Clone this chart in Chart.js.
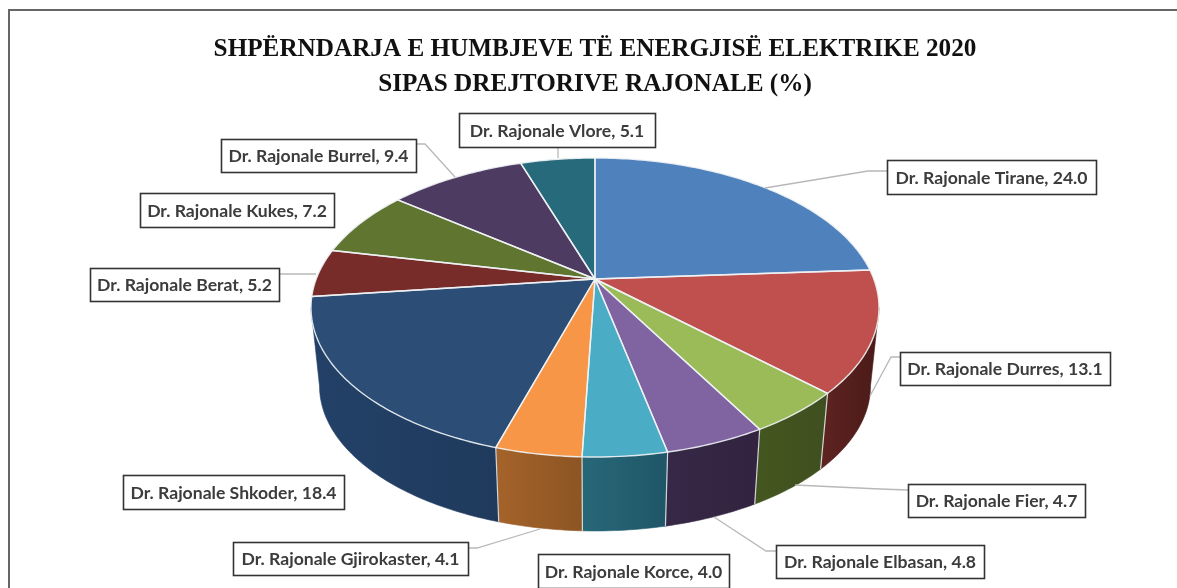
<!DOCTYPE html>
<html><head><meta charset="utf-8">
<style>html,body{margin:0;padding:0;background:#fff}canvas{display:block}</style>
<script src="https://cdn.jsdelivr.net/npm/chart.js@4"></script>
</head><body><canvas id="c" width="1177" height="588"></canvas>
<script>
const categories=["Dr. Rajonale Tirane","Dr. Rajonale Durres","Dr. Rajonale Fier","Dr. Rajonale Elbasan","Dr. Rajonale Korce","Dr. Rajonale Gjirokaster","Dr. Rajonale Shkoder","Dr. Rajonale Berat","Dr. Rajonale Kukes","Dr. Rajonale Burrel","Dr. Rajonale Vlore"];
const values=[24.0,13.1,4.7,4.8,4.0,4.1,18.4,5.2,7.2,9.4,5.1];
const topColors=["#4f81bd","#c0504d","#9bbb59","#8064a2","#4bacc6","#f79646","#2c4d75","#772c2a","#5f7530","#4d3b62","#276a7c"];
const sideDark=["#2f4d71","#4a1a18","#3f4f20","#322440","#1f5668","#8c5524","#1f3a5c","#4a1a18","#3f4f20","#322440","#1f5668"];
const sideLight=["#3d6491","#5c2320","#44561f","#362846","#276878","#a5632a","#234168","#5c2320","#44561f","#362846","#276878"];
const titleLines=["SHPËRNDARJA E HUMBJEVE TË ENERGJISË ELEKTRIKE 2020","SIPAS DREJTORIVE RAJONALE (%)"];
// label boxes: left, top, right, bottom
const labelBoxes=[[887,160,1096,194],[900,352,1110,385],[908,484,1085,517],[776,545,984,578],[538,554,729,588],[233,542,468,575],[123,475,344,509],[90,268,279,301],[140,193,334,227],[221,139,416,172],[459,113,655,147]];
// leader polylines
const leaders=[[[887,171],[868,171],[765,188]],[[900,357],[891,357],[870,396]],[[908,490],[880,489],[795,485]],[[776,551],[766,551],[714,517]],null,[[468,548],[477,548],[540,529]],null,[[279,274],[316,274]],null,[[416,144],[425,144],[455,177]],[[558,147],[558,158]]];

const P={cx:595,cy:279,Rx:278.8,A:144.07,c:0.1906,s:0.97,d:79.3};
function proj(a,bottom){
  const u=Math.cos(a),v=-Math.sin(a),w=1+P.c*v;
  const dx=P.Rx*u/w,dy=-P.A*v/w;
  return bottom?[P.cx+P.s*dx,P.cy+P.d+P.s*dy]:[P.cx+dx,P.cy+dy];
}
function rim(ctx,a0,a1,bottom,reverse){
  const n=Math.max(4,Math.ceil(Math.abs(a1-a0)*60));
  for(let i=0;i<=n;i++){
    const t=reverse?1-i/n:i/n;
    const p=proj(a0+(a1-a0)*t,bottom);
    ctx.lineTo(p[0],p[1]);
  }
}
const pie3d={
  id:'pie3d',
  beforeDatasetDraw(chart){
    const ctx=chart.ctx,arcs=chart.getDatasetMeta(0).data;
    ctx.save();
    ctx.lineJoin='round';
    // sides: only the front part of the wall, between the two silhouette points
    const frontA=Math.asin(P.c),frontB=Math.PI-frontA;
    const clampA=a=>{let x=a;while(x>Math.PI*1.5)x-=2*Math.PI;return x;};
    arcs.forEach((arc,i)=>{
      const s=clampA(arc.startAngle),e=s+(arc.endAngle-arc.startAngle);
      const a0=Math.max(s,frontA),a1=Math.min(e,frontB);
      if(a1<=a0)return;
      const p0=proj(a0),p1=proj(a1);
      const g=ctx.createLinearGradient(Math.min(p0[0],p1[0]),0,Math.max(p0[0],p1[0]),0);
      g.addColorStop(0,sideLight[i]);g.addColorStop(1,sideDark[i]);
      ctx.beginPath();rim(ctx,a0,a1,false,false);rim(ctx,a0,a1,true,true);ctx.closePath();
      ctx.fillStyle=g;ctx.fill();
      ctx.strokeStyle=g;ctx.lineWidth=0.6;ctx.stroke();
    });
    // side seams on the visible front
    ctx.strokeStyle='rgba(235,240,240,0.85)';ctx.lineWidth=1.2;
    arcs.forEach(arc=>{
      const a=arc.endAngle,p=proj(a),q=proj(a,true);
      if(Math.sin(a)>P.c){ctx.beginPath();ctx.moveTo(p[0],p[1]);ctx.lineTo(q[0],q[1]);ctx.stroke();}
    });
    // tops
    arcs.forEach((arc,i)=>{
      ctx.beginPath();ctx.moveTo(P.cx,P.cy);rim(ctx,arc.startAngle,arc.endAngle,false,false);ctx.closePath();
      ctx.fillStyle=topColors[i];ctx.fill();
    });
    ctx.strokeStyle='rgba(240,243,245,0.9)';ctx.lineWidth=1.4;
    arcs.forEach(arc=>{
      ctx.beginPath();ctx.moveTo(P.cx,P.cy);rim(ctx,arc.startAngle,arc.endAngle,false,false);ctx.closePath();ctx.stroke();
    });
    ctx.restore();
    return false;
  },
  afterDraw(chart){
    const ctx=chart.ctx;
    ctx.save();
    // frame: the top and left edges are the only ones inside the picture
    ctx.strokeStyle='#666';ctx.lineWidth=2;
    ctx.beginPath();ctx.moveTo(9,588);ctx.lineTo(9,10);ctx.lineTo(1177,10);ctx.stroke();
    // leaders
    ctx.strokeStyle='#b8b8b8';ctx.lineWidth=1.3;
    leaders.forEach(l=>{if(!l)return;ctx.beginPath();l.forEach((p,i)=>i?ctx.lineTo(p[0],p[1]):ctx.moveTo(p[0],p[1]));ctx.stroke();});
    // label boxes
    ctx.font='bold 17.6px Lato, "Open Sans", sans-serif';
    ctx.textAlign='center';ctx.textBaseline='middle';
    categories.forEach((name,i)=>{
      const b=labelBoxes[i];
      ctx.fillStyle='#fff';ctx.fillRect(b[0],b[1],b[2]-b[0],b[3]-b[1]);
      ctx.strokeStyle='#333';ctx.lineWidth=1.6;ctx.strokeRect(b[0]+.5,b[1]+.5,b[2]-b[0],b[3]-b[1]);
      ctx.fillStyle='#3c3c3c';
      ctx.fillText(name+', '+values[i].toFixed(1),(b[0]+b[2])/2,(b[1]+b[3])/2+1);
    });
    // title
    ctx.fillStyle='#111';ctx.font='bold 25.2px "Liberation Serif", serif';
    ctx.fillText(titleLines[0],595,49);
    ctx.fillText(titleLines[1],595,84);
    ctx.restore();
  }
};
new Chart(document.getElementById('c'),{
  type:'pie',
  data:{labels:categories,datasets:[{data:values,backgroundColor:topColors,borderWidth:0}]},
  options:{responsive:false,animation:false,
    plugins:{legend:{display:false},title:{display:false},tooltip:{enabled:false}}},
  plugins:[pie3d]
});
</script></body></html>
